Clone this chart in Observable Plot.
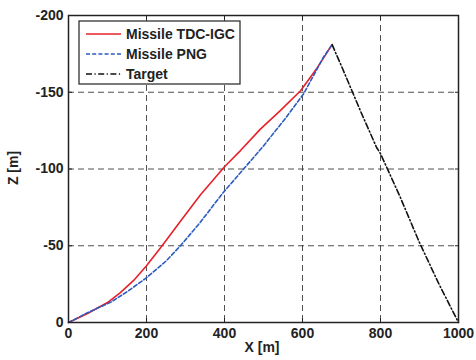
<!DOCTYPE html>
<html><head><meta charset="utf-8">
<script src="https://cdn.jsdelivr.net/npm/d3@7"></script>
<script src="https://cdn.jsdelivr.net/npm/@observablehq/plot@0.6"></script>
<style>body{margin:0;background:#fff;} svg{font-family:"Liberation Sans",Arial,sans-serif;}</style>
</head><body><div id="chart"></div>
<script>
const tdcX = [0,50,100,133,167,200,240,287,338,400,441,492,543,595,638,676];
const tdcZ = [0,-6,-13,-19.5,-27.4,-37,-50,-66,-83,-101.5,-112,-126,-138,-151,-166,-181];
const pngX = [0,50,108,150,197,250,287,338,394,449,500,531,552,603,654,676];
const pngZ = [0,-6.5,-13.2,-20,-28.6,-40,-50,-65.3,-83.8,-100,-115,-125,-131.6,-149,-173,-181];
const tgtX = [676,700,750,790,800,850,900,950,1000];
const tgtZ = [-181,-167,-137,-114,-110,-82,-52,-25,0];
const xTicks = [0,200,400,600,800,1000];
const zTicks = [0,-50,-100,-150,-200];
const names = ["Missile TDC-IGC","Missile PNG","Target"];
const colors = ["#e8202a","#2a5bbf","#111111"];
const dashes = [null,"4,2.2","6,2.5,1.2,2.5"];

const mk = (xs, zs) => xs.map((x,i)=>({x, z: zs[i]}));
const series = [mk(tdcX,tdcZ), mk(pngX,pngZ), mk(tgtX,tgtZ)];

const plot = Plot.plot({
  width: 476, height: 360,
  marginLeft: 68, marginRight: 18, marginTop: 15, marginBottom: 38,
  style: {fontFamily: '"Liberation Sans",Arial,sans-serif', fontSize: "14px", fontWeight: "bold", color: "#222"},
  x: {domain: [0,1000], ticks: xTicks, label: null},
  y: {domain: [0,-200], ticks: zTicks, label: null},
  marks: [
    Plot.gridX(xTicks.slice(1,-1), {stroke: "#333", strokeOpacity: 0.85, strokeDasharray: "6,4", strokeWidth: 1}),
    Plot.gridY(zTicks.slice(1,-1), {stroke: "#333", strokeOpacity: 0.85, strokeDasharray: "6,4", strokeWidth: 1}),
    Plot.axisX({ticks: xTicks, tickSize: 0, tickPadding: 6, fontSize: 14, fontWeight: "bold", fill: "#222", tickFormat: d => String(d), label: null}),
    Plot.axisY({ticks: zTicks, tickSize: 0, tickPadding: 5, fontSize: 14, fontWeight: "bold", fill: "#222", tickFormat: d => d === 0 ? "0" : "-" + Math.abs(d), label: null}),
    Plot.axisX({anchor: "top", ticks: xTicks, tickSize: -4, tickFormat: () => "", label: null, stroke: "#222"}),
    Plot.axisX({anchor: "bottom", ticks: xTicks, tickSize: -4, tickFormat: () => "", label: null, stroke: "#222"}),
    Plot.axisY({anchor: "left", ticks: zTicks, tickSize: -4, tickFormat: () => "", label: null, stroke: "#222"}),
    Plot.axisY({anchor: "right", ticks: zTicks, tickSize: -4, tickFormat: () => "", label: null, stroke: "#222"}),
    ...series.map((s,i) => Plot.line(s, {x: "x", y: "z", stroke: colors[i], strokeWidth: 1.6, strokeDasharray: dashes[i], curve: "linear"})),
    Plot.frame({stroke: "#222", strokeWidth: 1.5})
  ]
});
document.getElementById("chart").appendChild(plot);

const svg = d3.select(plot);
svg.append("text").attr("x", 262).attr("y", 352).attr("text-anchor","middle")
  .attr("font-size",14).attr("font-weight","bold").attr("fill","#222").text("X [m]");
svg.append("text").attr("transform","translate(18,168) rotate(-90)").attr("text-anchor","middle")
  .attr("font-size",14).attr("font-weight","bold").attr("fill","#222").text("Z [m]");

const lg = svg.append("g");
lg.append("rect").attr("x",79).attr("y",21).attr("width",161).attr("height",63)
  .attr("fill","#fff").attr("stroke","#222").attr("stroke-width",1.2);
names.forEach((n,i) => {
  const y = 34 + i*20;
  lg.append("line").attr("x1",86).attr("x2",121).attr("y1",y).attr("y2",y)
    .attr("stroke",colors[i]).attr("stroke-width",1.6).attr("stroke-dasharray",dashes[i]);
  lg.append("text").attr("x",126).attr("y",y+5).attr("text-anchor","start").attr("font-size",14).attr("font-weight","bold")
    .attr("fill","#222").text(n);
});
</script></body></html>
